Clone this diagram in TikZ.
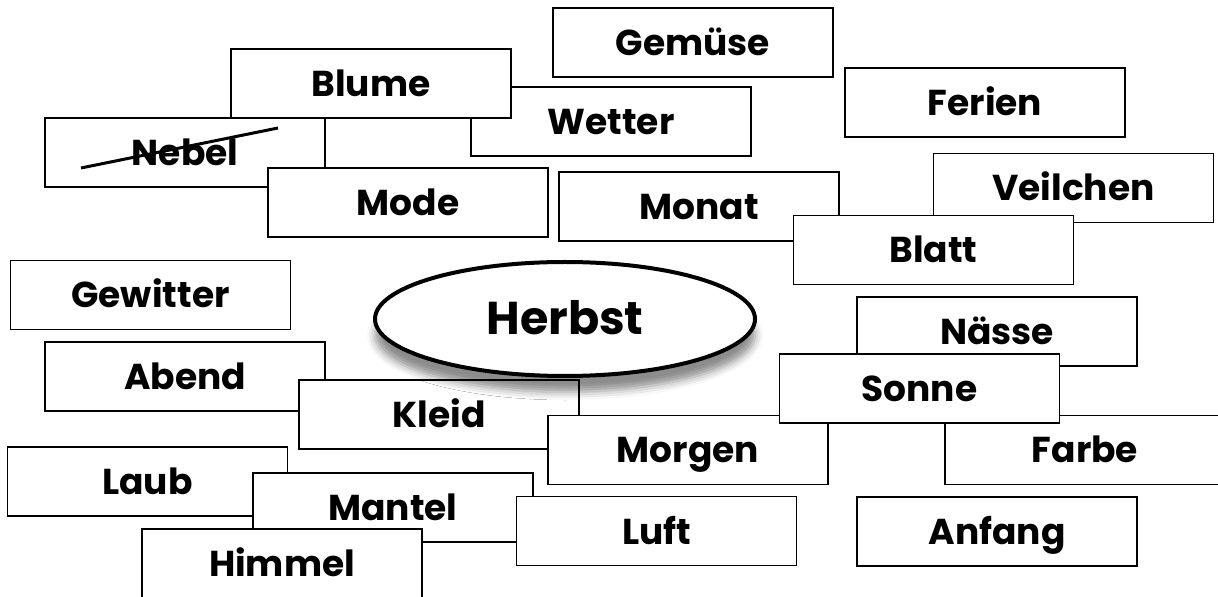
\documentclass[tikz,border=0pt]{standalone}
\usepackage{fontspec}
\setmainfont{Poppins}
\usepackage{tikz}
\usetikzlibrary{shapes.geometric}
\usetikzlibrary{shadows.blur}
\tikzset{wort/.style={draw, fill=white, line width=0.6pt, minimum width=140pt,
  minimum height=34.5pt, inner sep=0pt, text height=13pt, text depth=0pt,
  font=\bfseries\fontsize{18}{18}\selectfont}}

\begin{document}
\begin{tikzpicture}[x=0.5pt,y=-0.5pt]
\useasboundingbox (0,0) rectangle (1218,597);
\node[wort] (gemuese) at (693,42.5) {Gemüse};
\node[wort] (ferien) at (985,102.5) {Ferien};
\node[wort] (wetter) at (611,121.5) {Wetter};
\node[wort] (blume) at (371,83.5) {Blume};
\node[wort] (nebel) at (185,152.5) {Nebel};
\draw[line width=1.5pt] (81,168) -- (278,128);
\node[wort] (mode) at (408,202.5) {Mode};
\node[wort] (monat) at (699,206.5) {Monat};
\node[wort] (veilchen) at (1073.5,188) {Veilchen};
\node[wort] (blatt) at (933.5,250) {Blatt};
\node[wort] (gewitter) at (150.5,295) {Gewitter};
\node[wort] (naesse) at (997,331.5) {Nässe};
\node[wort] (abend) at (185,376.5) {Abend};
\node[wort] (kleid) at (439,414.5) {Kleid};
\node[wort] (farbe) at (1085,450) {Farbe};
\node[wort] (morgen) at (688,450) {Morgen};
\node[wort] (sonne) at (919.5,388.5) {Sonne};
\node[wort] (laub) at (147.5,481.5) {Laub};
\node[wort] (mantel) at (393,507.5) {Mantel};
\node[wort] (luft) at (656.5,531) {Luft};
\node[wort] (himmel) at (282,563.5) {Himmel};
\node[wort] (anfang) at (997,531.5) {Anfang};
% Mitte
\node[ellipse, draw, fill=white, line width=2pt, minimum width=190pt, minimum height=57pt,
  text height=16pt, text depth=0pt, font=\bfseries\fontsize{23}{23}\selectfont,
  blur shadow={shadow xshift=0pt, shadow yshift=-8pt, shadow blur radius=4pt, shadow opacity=45}]
  (herbst) at (565,319) {Herbst};
\end{tikzpicture}
\end{document}
